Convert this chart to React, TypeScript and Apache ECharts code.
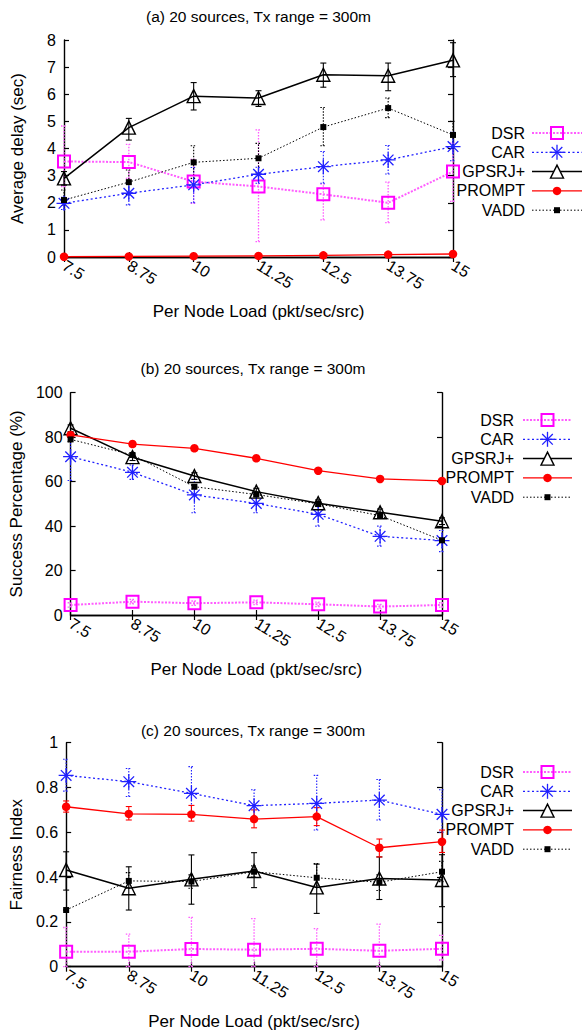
import React, { useEffect, useRef } from 'react';
import * as echarts from 'echarts';

// Offered load per source node (pkt/sec/src)
const loads = [7.5, 8.75, 10, 11.25, 12.5, 13.75, 15];
const protocols = ['DSR', 'CAR', 'GPSRJ+', 'PROMPT', 'VADD'];

// (a) Average delay (sec)
const delayDSR = [3.52, 3.5, 2.78, 2.6, 2.31, 2.0, 3.15];
const delayCAR = [1.98, 2.35, 2.66, 3.05, 3.33, 3.58, 4.07];
const delayGPSRJ = [2.9, 4.77, 5.93, 5.86, 6.72, 6.68, 7.25];
const delayPROMPT = [0.01, 0.02, 0.03, 0.04, 0.06, 0.09, 0.11];
const delayVADD = [2.1, 2.76, 3.49, 3.64, 4.79, 5.49, 4.5];

const delayDSRBar = [[2.6, 4.83], [2.9, 4.15], [1.98, 3.6], [0.57, 4.69], [1.37, 2.69], [1.27, 2.76], [2.05, 4.2]];
const delayCARBar = [[1.75, 2.2], [1.92, 2.73], [2.0, 3.3], [2.72, 3.31], [2.72, 3.89], [3.06, 4.11], [3.55, 4.6]];
const delayGPSRJBar = [[2.65, 3.15], [4.31, 5.11], [5.42, 6.43], [5.55, 6.13], [6.26, 7.15], [6.13, 7.15], [6.65, 7.9]];
const delayPROMPTBar = [[0, 0.03], [0, 0.04], [0.01, 0.05], [0.02, 0.06], [0.04, 0.08], [0.07, 0.11], [0.09, 0.13]];
const delayVADDBar = [[1.9, 2.47], [2.3, 3.21], [2.9, 4.1], [3.1, 4.19], [4.1, 5.51], [5.14, 5.86], [4.0, 5.0]];

// (b) Success percentage (%)
const successDSR = [4.5, 6.0, 5.3, 5.7, 4.8, 3.8, 4.5];
const successCAR = [71.2, 64.2, 54.0, 50.2, 45.3, 35.4, 33.5];
const successGPSRJ = [84.0, 71.0, 62.5, 55.5, 50.3, 46.2, 42.2];
const successPROMPT = [81.0, 76.9, 75.0, 70.5, 64.9, 61.2, 60.3];
const successVADD = [79.0, 72.0, 57.7, 54.2, 50.0, 44.7, 33.6];

const successDSRBar = [[3.5, 5.5], [5.0, 7.0], [4.3, 6.3], [4.7, 6.7], [3.8, 5.8], [2.8, 4.8], [3.5, 5.5]];
const successCARBar = [[60.5, 80.0], [61.0, 67.5], [46.0, 61.0], [46.0, 55.0], [40.0, 50.5], [31.0, 40.0], [28.5, 38.0]];
const successGPSRJBar = [[82.5, 85.5], [69.5, 72.5], [61.0, 64.0], [54.0, 57.0], [48.8, 51.8], [44.7, 47.7], [40.7, 43.7]];
const successPROMPTBar = [[80.2, 81.8], [76.1, 77.7], [74.2, 75.8], [69.7, 71.3], [64.1, 65.7], [60.4, 62.0], [59.5, 61.1]];
const successVADDBar = [[78.0, 80.0], [71.0, 73.0], [56.7, 58.7], [53.2, 55.2], [49.0, 51.0], [43.7, 45.7], [32.6, 34.6]];

// (c) Fairness index
const fairDSR = [0.067, 0.067, 0.079, 0.076, 0.08, 0.071, 0.08];
const fairCAR = [0.854, 0.826, 0.774, 0.719, 0.729, 0.744, 0.68];
const fairGPSRJ = [0.432, 0.35, 0.39, 0.427, 0.354, 0.394, 0.387];
const fairPROMPT = [0.714, 0.682, 0.68, 0.659, 0.67, 0.531, 0.558];
const fairVADD = [0.253, 0.383, 0.38, 0.424, 0.397, 0.377, 0.424];

const fairDSRBar = [[0, 0.175], [0, 0.145], [0, 0.22], [0, 0.215], [0, 0.17], [0, 0.19], [0.03, 0.14]];
const fairCARBar = [[0.784, 0.926], [0.76, 0.885], [0.67, 0.893], [0.65, 0.79], [0.61, 0.854], [0.655, 0.836], [0.6, 0.79]];
const fairGPSRJBar = [[0.342, 0.513], [0.253, 0.446], [0.279, 0.499], [0.353, 0.509], [0.238, 0.458], [0.3, 0.49], [0.268, 0.5]];
const fairPROMPTBar = [[0.69, 0.74], [0.655, 0.715], [0.65, 0.72], [0.62, 0.7], [0.63, 0.71], [0.49, 0.57], [0.51, 0.61]];
const fairVADDBar = [[0.253, 0.253], [0.35, 0.42], [0.35, 0.41], [0.4, 0.45], [0.36, 0.46], [0.34, 0.41], [0.38, 0.47]];

const FONT = '"Liberation Sans", Arial, Helvetica, sans-serif';
const ASTERISK = 'path://M0,-10L0,10M-10,0L10,0M-7.07,-7.07L7.07,7.07M-7.07,7.07L7.07,-7.07';

type Look = {
  line: string; mark: string; dash: number[] | 'solid'; width: number;
  symbol: string; size: number; hollow: boolean; border: number;
};

const looks: Record<string, Look> = {
  'DSR': { line: '#ff5cff', mark: '#ff00ff', dash: [2, 1.5], width: 2, symbol: 'rect', size: 12, hollow: true, border: 2 },
  'CAR': { line: '#2020ff', mark: '#2020ff', dash: [2, 2.5], width: 1.3, symbol: ASTERISK, size: 15, hollow: true, border: 1.3 },
  'GPSRJ+': { line: '#000000', mark: '#000000', dash: 'solid', width: 1.5, symbol: 'triangle', size: 13, hollow: true, border: 1.4 },
  'PROMPT': { line: '#ff0000', mark: '#ff0000', dash: 'solid', width: 1.3, symbol: 'circle', size: 8.5, hollow: false, border: 0 },
  'VADD': { line: '#000000', mark: '#000000', dash: [1.5, 2], width: 1, symbol: 'rect', size: 6, hollow: false, border: 0 },
};

const panels = [
  {
    title: '(a) 20 sources, Tx range = 300m', yName: 'Average delay (sec)',
    values: [delayDSR, delayCAR, delayGPSRJ, delayPROMPT, delayVADD],
    bars: [delayDSRBar, delayCARBar, delayGPSRJBar, delayPROMPTBar, delayVADDBar],
    max: 8, interval: 1,
    top: 40, height: 217, width: 389, titleY: 16,
    legendTextX: 525, legendLine: [532, 582], legendY: 133,
  },
  {
    title: '(b) 20 sources, Tx range = 300m', yName: 'Success Percentage (%)',
    values: [successDSR, successCAR, successGPSRJ, successPROMPT, successVADD],
    bars: [successDSRBar, successCARBar, successGPSRJBar, successPROMPTBar, successVADDBar],
    max: 100, interval: 20,
    top: 392.7, height: 222.3, width: 378, titleY: 368,
    legendTextX: 514, legendLine: [523, 572], legendY: 420,
  },
  {
    title: '(c) 20 sources, Tx range = 300m', yName: 'Fairness Index',
    values: [fairDSR, fairCAR, fairGPSRJ, fairPROMPT, fairVADD],
    bars: [fairDSRBar, fairCARBar, fairGPSRJBar, fairPROMPTBar, fairVADDBar],
    max: 1, interval: 0.2,
    top: 742.7, height: 224, width: 378, titleY: 730,
    legendTextX: 514, legendLine: [523, 572], legendY: 772,
  },
];

const GRID_LEFT = 64;
const LEGEND_STEP = 19.3;

function legendMarker(name: string, cx: number, cy: number): any {
  const lk = looks[name];
  const h = lk.size / 2;
  if (name === 'DSR') {
    return { type: 'rect', shape: { x: cx - h, y: cy - h, width: lk.size, height: lk.size },
      style: { fill: 'none', stroke: lk.mark, lineWidth: lk.border } };
  }
  if (name === 'CAR') {
    const d = h * 0.707;
    const st = { stroke: lk.mark, lineWidth: lk.border };
    return { type: 'group', children: [
      { type: 'line', shape: { x1: cx, y1: cy - h, x2: cx, y2: cy + h }, style: st },
      { type: 'line', shape: { x1: cx - h, y1: cy, x2: cx + h, y2: cy }, style: st },
      { type: 'line', shape: { x1: cx - d, y1: cy - d, x2: cx + d, y2: cy + d }, style: st },
      { type: 'line', shape: { x1: cx - d, y1: cy + d, x2: cx + d, y2: cy - d }, style: st },
    ] };
  }
  if (name === 'GPSRJ+') {
    return { type: 'polygon', shape: { points: [[cx, cy - h], [cx + h, cy + h], [cx - h, cy + h]] },
      style: { fill: '#fff', stroke: lk.mark, lineWidth: lk.border } };
  }
  if (name === 'PROMPT') {
    return { type: 'circle', shape: { cx, cy, r: h }, style: { fill: lk.mark } };
  }
  return { type: 'rect', shape: { x: cx - h, y: cy - h, width: lk.size, height: lk.size }, style: { fill: lk.mark } };
}

function buildOption() {
  const grid: any[] = [];
  const xAxis: any[] = [];
  const yAxis: any[] = [];
  const series: any[] = [];
  const graphic: any[] = [];

  const axisLine = { show: true, lineStyle: { color: '#000', width: 1.4 } };
  const tick = { show: true, inside: true, length: 5, lineStyle: { color: '#000', width: 1.2 } };

  panels.forEach((p, i) => {
    grid.push({ left: GRID_LEFT, top: p.top, width: p.width, height: p.height });
    const xBase = { type: 'value', gridIndex: i, min: 7.5, max: 15, interval: 1.25, splitLine: { show: false }, axisLine, axisTick: tick };
    xAxis.push({
      ...xBase, position: 'bottom',
      name: 'Per Node Load (pkt/sec/src)', nameLocation: 'middle', nameGap: 46,
      nameTextStyle: { fontSize: 17, color: '#000', fontFamily: FONT },
      axisLabel: { rotate: -32, fontSize: 16, color: '#000', margin: 7, fontFamily: FONT },
    });
    xAxis.push({ ...xBase, position: 'top', axisLabel: { show: false } });
    const yBase = { type: 'value', gridIndex: i, min: 0, max: p.max, interval: p.interval, splitLine: { show: false }, axisLine, axisTick: tick };
    yAxis.push({
      ...yBase, position: 'left',
      name: p.yName, nameLocation: 'middle', nameGap: 38,
      nameTextStyle: { fontSize: 17, color: '#000', fontFamily: FONT },
      axisLabel: { fontSize: 16, color: '#000', margin: 8, fontFamily: FONT },
    });
    yAxis.push({ ...yBase, position: 'right', axisLabel: { show: false } });

    protocols.forEach((name, k) => {
      const lk = looks[name];
      const barStyle = {
        stroke: lk.line, lineWidth: name === 'DSR' ? 1.3 : 1.1,
        lineDash: lk.dash === 'solid' ? null : [1.5, 1.5],
      };
      series.push({
        type: 'custom', name, xAxisIndex: i * 2, yAxisIndex: i * 2, z: 1 + k * 0.1,
        data: loads.map((x, j) => [x, p.bars[k][j][0], p.bars[k][j][1]]),
        renderItem: (_params: any, api: any) => {
          const x = api.value(0);
          const lo = api.coord([x, api.value(1)]);
          const hi = api.coord([x, api.value(2)]);
          const w = 3;
          return {
            type: 'group',
            children: [
              { type: 'line', shape: { x1: lo[0], y1: lo[1], x2: hi[0], y2: hi[1] }, style: barStyle },
              { type: 'line', shape: { x1: lo[0] - w, y1: lo[1], x2: lo[0] + w, y2: lo[1] }, style: barStyle },
              { type: 'line', shape: { x1: hi[0] - w, y1: hi[1], x2: hi[0] + w, y2: hi[1] }, style: barStyle },
            ],
          };
        },
      });
      series.push({
        type: 'line', name, xAxisIndex: i * 2, yAxisIndex: i * 2, z: 3 + k * 0.1,
        data: loads.map((x, j) => [x, p.values[k][j]]),
        symbol: lk.symbol, symbolSize: lk.size, showAllSymbol: true,
        lineStyle: { color: lk.line, width: lk.width, type: lk.dash },
        itemStyle: lk.hollow
          ? { color: 'rgba(255,255,255,0)', borderColor: lk.mark, borderWidth: lk.border }
          : { color: lk.mark, borderWidth: 0 },
        emphasis: { disabled: true },
      });
    });

    // panel title
    graphic.push({
      type: 'text', x: GRID_LEFT + p.width / 2, y: p.titleY, z: 10,
      style: { text: p.title, align: 'center', verticalAlign: 'middle', fontSize: 15.5, fontFamily: FONT, fill: '#000' },
    });

    // key
    protocols.forEach((name, k) => {
      const lk = looks[name];
      const y = p.legendY + k * LEGEND_STEP;
      const [x1, x2] = p.legendLine;
      graphic.push({
        type: 'text', x: p.legendTextX, y, z: 10,
        style: { text: name, align: 'right', verticalAlign: 'middle', fontSize: 16, fontFamily: FONT, fill: '#000' },
      });
      graphic.push({
        type: 'line', z: 10, shape: { x1, y1: y, x2, y2: y },
        style: { stroke: lk.line, lineWidth: lk.width, lineDash: lk.dash === 'solid' ? null : lk.dash },
      });
      const m = legendMarker(name, (x1 + x2) / 2, y);
      m.z = 11;
      graphic.push(m);
    });
  });

  return {
    animation: false,
    backgroundColor: '#ffffff',
    textStyle: { fontFamily: FONT },
    grid, xAxis, yAxis, series, graphic,
  };
}

export default function App() {
  const ref = useRef<HTMLDivElement>(null);
  useEffect(() => {
    if (!ref.current) return;
    const chart = echarts.init(ref.current, undefined, { renderer: 'svg' });
    chart.setOption(buildOption() as any);
    return () => chart.dispose();
  }, []);
  return (
    <div
      ref={ref}
      style={{ position: 'absolute', left: 0, top: 0, width: 582, height: 1034, background: '#fff' }}
    />
  );
}
